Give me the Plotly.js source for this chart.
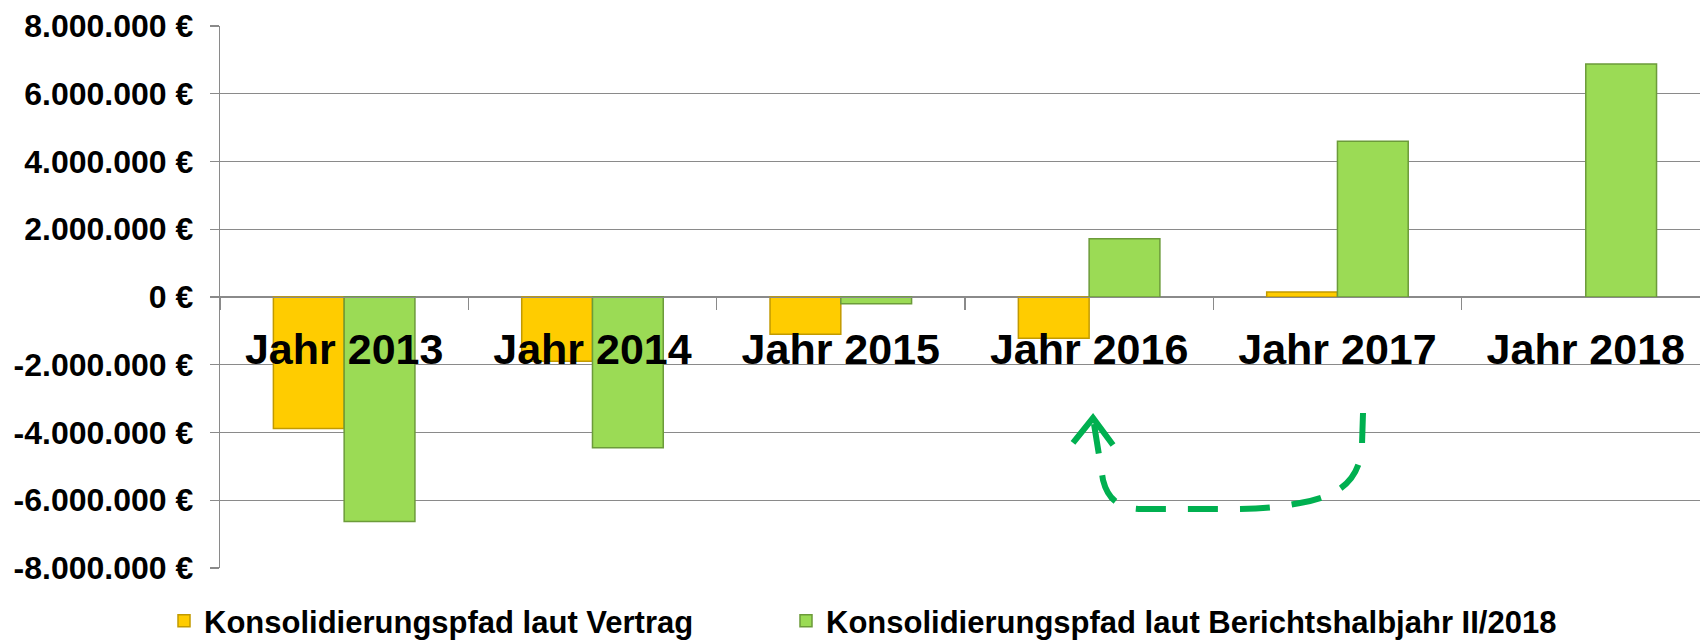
<!DOCTYPE html>
<html>
<head>
<meta charset="utf-8">
<script src="https://cdn.plot.ly/plotly-3.0.1.min.js"></script>
<style>html,body{margin:0;padding:0;background:#fff;}</style>
</head>
<body>
<div id="chart" style="width:1700px;height:642px;"></div>
<script>
// ---- data ----
const categories = ['Jahr 2013', 'Jahr 2014', 'Jahr 2015', 'Jahr 2016', 'Jahr 2017', 'Jahr 2018'];
const seriesNames = ['Konsolidierungspfad laut Vertrag', 'Konsolidierungspfad laut Berichtshalbjahr II/2018'];
const vertragValues = [-3880000, -1900000, -1100000, -1220000, 150000, null];
const berichtValues = [-6630000, -4450000, -200000, 1720000, 4600000, 6880000];
const yTickVals = [-8000000, -6000000, -4000000, -2000000, 0, 2000000, 4000000, 6000000, 8000000];
const yTickText = ['-8.000.000 €', '-6.000.000 €', '-4.000.000 €', '-2.000.000 €', '0 €',
                   '2.000.000 €', '4.000.000 €', '6.000.000 €', '8.000.000 €'];

// ---- layout constants ----
const W = 1700, H = 642;
const M = {l: 220, r: 0, t: 26, b: 74, autoexpand: false};
const PW = W - M.l - M.r, PH = H - M.t - M.b;
const FONT = 'Liberation Sans, Arial, sans-serif';
const GRID = '#8a8a8a';

// pixel -> paper helper for the decorative arrow
function P(px, py) { return ((px - M.l) / PW).toFixed(5) + ',' + ((H - M.b - py) / PH).toFixed(5); }

const arrowPath = 'M' + P(1363, 413) + ' L' + P(1362, 445) +
  ' C' + P(1360, 480) + ' ' + P(1340, 496) + ' ' + P(1300, 503) +
  ' C' + P(1280, 507) + ' ' + P(1262, 509) + ' ' + P(1232, 509) +
  ' L' + P(1142, 509) +
  ' C' + P(1120, 509) + ' ' + P(1108, 500) + ' ' + P(1103, 480) +
  ' L' + P(1094, 424);
const arrowHead = 'M' + P(1073, 443) + ' L' + P(1093, 418) + ' L' + P(1113, 445);

const traces = [
  {
    type: 'bar', name: seriesNames[0], x: categories, y: vertragValues,
    marker: {color: '#FFCC00', line: {color: '#C29A00', width: 1.5}},
    legend: 'legend'
  },
  {
    type: 'bar', name: seriesNames[1], x: categories, y: berichtValues,
    marker: {color: '#9BDB55', line: {color: '#6C9B3A', width: 1.5}},
    legend: 'legend2'
  }
];

const legendFont = {family: FONT, size: 31, weight: 'bold', color: '#000'};
const legendY = (H - M.b - 621) / PH;

const layout = {
  width: W, height: H,
  margin: M,
  paper_bgcolor: '#ffffff',
  plot_bgcolor: '#ffffff',
  barmode: 'group',
  bargap: 0.43,
  bargroupgap: 0,
  font: {family: FONT, color: '#000'},
  xaxis: {
    type: 'category',
    range: [-0.5, 5.46],
    anchor: 'free',
    position: 0.5,
    showline: true, linecolor: GRID, linewidth: 1.3,
    ticks: 'outside', ticklen: 12, tickcolor: GRID, tickwidth: 1.3,
    tickson: 'boundaries',
    showgrid: false,
    tickfont: {family: FONT, size: 43, weight: 'bold', color: '#000'},
    ticklabelstandoff: 14,
    fixedrange: true
  },
  yaxis: {
    range: [-8000000, 8000000],
    tickvals: yTickVals,
    ticktext: yTickText,
    showline: true, linecolor: GRID, linewidth: 1.3,
    ticks: 'outside', ticklen: 9, tickcolor: GRID, tickwidth: 1.3,
    showgrid: true, gridcolor: GRID, gridwidth: 1.3,
    zeroline: false,
    tickfont: {family: FONT, size: 32, weight: 'bold', color: '#000'},
    ticklabelstandoff: 10,
    fixedrange: true
  },
  showlegend: true,
  legend: {
    orientation: 'h',
    x: (164 - M.l) / PW, xanchor: 'left',
    y: legendY, yanchor: 'middle',
    font: legendFont,
    bgcolor: 'rgba(0,0,0,0)'
  },
  legend2: {
    orientation: 'h',
    x: (786 - M.l) / PW, xanchor: 'left',
    y: legendY, yanchor: 'middle',
    font: legendFont,
    bgcolor: 'rgba(0,0,0,0)'
  },
  shapes: [
    {type: 'path', xref: 'paper', yref: 'paper', path: arrowPath,
     line: {color: '#00B050', width: 6, dash: '30px,22px'}},
    {type: 'path', xref: 'paper', yref: 'paper', path: arrowHead,
     line: {color: '#00B050', width: 6}}
  ]
};

Plotly.newPlot('chart', traces, layout, {displayModeBar: false, staticPlot: true});
</script>
</body>
</html>
